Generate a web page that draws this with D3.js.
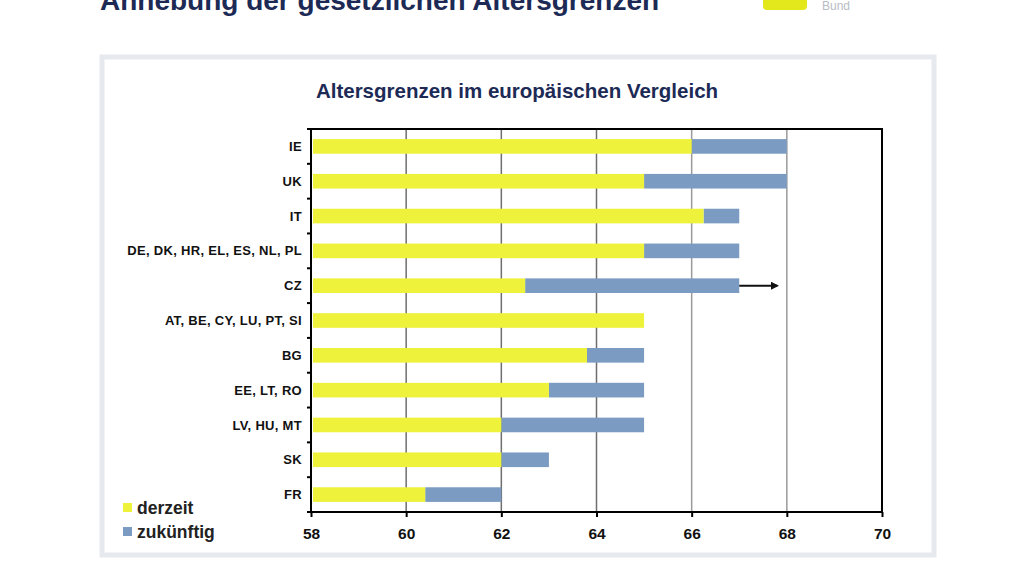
<!DOCTYPE html>
<html>
<head>
<meta charset="utf-8">
<script src="https://cdn.jsdelivr.net/npm/d3@7"></script>
<style>
  body { margin: 0; background: #fff; }
  svg { display: block; font-family: "Liberation Sans", Arial, sans-serif; }
</style>
</head>
<body>
<script>
// data
const categories = ["IE", "UK", "IT", "DE, DK, HR, EL, ES, NL, PL", "CZ", "AT, BE, CY, LU, PT, SI",
                    "BG", "EE, LT, RO", "LV, HU, MT", "SK", "FR"];
const derzeit   = [66, 65, 66.25, 65, 62.5, 65, 63.8, 63, 62, 62, 60.4];
const zukuenftig = [68, 68, 67, 67, 67, 65, 65, 65, 65, 63, 62];
const arrowTo = { CZ: 67.8 };
const xTicks = [58, 60, 62, 64, 66, 68, 70];

const W = 1023, H = 575;
const svg = d3.select("body").append("svg").attr("width", W).attr("height", H);

// page header (cut off at the top)
svg.append("text").attr("x", 100).attr("y", 10)
  .attr("fill", "#1c2a55").attr("font-size", 28).attr("font-weight", "bold")
  .text("Anhebung der gesetzlichen Altersgrenzen");
svg.append("rect").attr("x", 763).attr("y", -6).attr("width", 44).attr("height", 16)
  .attr("rx", 4).attr("fill", "#e2e81c");
svg.append("text").attr("x", 822).attr("y", 10).attr("fill", "#b8bcc4")
  .attr("font-size", 12).text("Bund");

// panel frame
svg.append("rect").attr("x", 102).attr("y", 57).attr("width", 832).attr("height", 498)
  .attr("fill", "#fff").attr("stroke", "#e6e9ee").attr("stroke-width", 5);

svg.append("text").attr("x", 517).attr("y", 98).attr("text-anchor", "middle")
  .attr("fill", "#1c2a55").attr("font-size", 20.5).attr("font-weight", "bold")
  .text("Altersgrenzen im europäischen Vergleich");

const m = { left: 311, right: 882, top: 129, bottom: 512 };
const x = d3.scaleLinear().domain([58, 70]).range([m.left, m.right]);
const y = d3.scaleBand().domain(categories).range([m.top, m.bottom]).paddingInner(0.58).paddingOuter(0.29);

const g = svg.append("g");

// grid
g.selectAll(".grid").data(xTicks.slice(1, -1)).enter().append("line")
  .attr("x1", d => x(d)).attr("x2", d => x(d))
  .attr("y1", m.top).attr("y2", m.bottom)
  .attr("stroke", (d, i) => i < 3 ? "#6e6e6e" : "#9a9a9a").attr("stroke-width", 1.5);

const rows = categories.map((c, i) => ({ c, a: derzeit[i], b: zukuenftig[i] }));

// future part (blue) from current to future
g.selectAll(".fut").data(rows).enter().append("rect")
  .attr("x", d => x(d.a)).attr("y", d => y(d.c))
  .attr("width", d => x(d.b) - x(d.a)).attr("height", y.bandwidth())
  .attr("fill", "#7b9bc2");

// current part (yellow)
g.selectAll(".cur").data(rows).enter().append("rect")
  .attr("x", x(58) + 2).attr("y", d => y(d.c))
  .attr("width", d => x(d.a) - x(58) - 2).attr("height", y.bandwidth())
  .attr("fill", "#eef23a");

// arrow for CZ
const defs = svg.append("defs");
defs.append("marker").attr("id", "ah").attr("viewBox", "0 0 10 10")
  .attr("refX", 8).attr("refY", 5).attr("markerWidth", 4).attr("markerHeight", 4)
  .attr("orient", "auto")
  .append("path").attr("d", "M0,0 L10,5 L0,10 z").attr("fill", "#111");
Object.entries(arrowTo).forEach(([c, v]) => {
  const i = categories.indexOf(c);
  g.append("line").attr("x1", x(zukuenftig[i])).attr("x2", x(v))
    .attr("y1", y(c) + y.bandwidth() / 2).attr("y2", y(c) + y.bandwidth() / 2)
    .attr("stroke", "#111").attr("stroke-width", 2).attr("marker-end", "url(#ah)");
});

// frame of plot
g.append("rect").attr("x", m.left).attr("y", m.top)
  .attr("width", m.right - m.left).attr("height", m.bottom - m.top)
  .attr("fill", "none").attr("stroke", "#000").attr("stroke-width", 2);

// x axis
const xAxis = g.append("g").attr("transform", `translate(0,${m.bottom})`)
  .call(d3.axisBottom(x).tickValues(xTicks).tickSize(5).tickPadding(11));
xAxis.select(".domain").remove();
xAxis.selectAll("line").attr("stroke", "#000").attr("stroke-width", 2);
xAxis.selectAll("text").attr("font-size", 15.5).attr("font-weight", "bold")
  .attr("fill", "#111").attr("font-family", "Liberation Sans, Arial, sans-serif");

// y axis: labels and boundary ticks
const bounds = d3.range(categories.length + 1).map(i => m.top + i * (m.bottom - m.top) / categories.length);
g.selectAll(".yt").data(bounds).enter().append("line")
  .attr("x1", m.left - 4).attr("x2", m.left).attr("y1", d => d).attr("y2", d => d)
  .attr("stroke", "#000").attr("stroke-width", 2);
g.selectAll(".yl").data(categories).enter().append("text")
  .attr("x", m.left - 9).attr("y", d => y(d) + y.bandwidth() / 2)
  .attr("dy", "0.35em").attr("text-anchor", "end")
  .attr("font-size", 13).attr("fill", "#111").attr("font-weight", "bold")
  .attr("letter-spacing", 0.3)
  .text(d => d);

// legend
const legend = [["derzeit", "#eef23a"], ["zukünftig", "#7b9bc2"]];
const lg = svg.append("g").attr("transform", "translate(123,503)");
legend.forEach(([t, c], i) => {
  lg.append("rect").attr("x", 0).attr("y", i * 24).attr("width", 9).attr("height", 9).attr("fill", c);
  lg.append("text").attr("x", 14).attr("y", i * 24 + 5).attr("dy", "0.35em")
    .attr("font-size", 17.5).attr("font-weight", "bold").attr("fill", "#222").text(t);
});
</script>
</body>
</html>
